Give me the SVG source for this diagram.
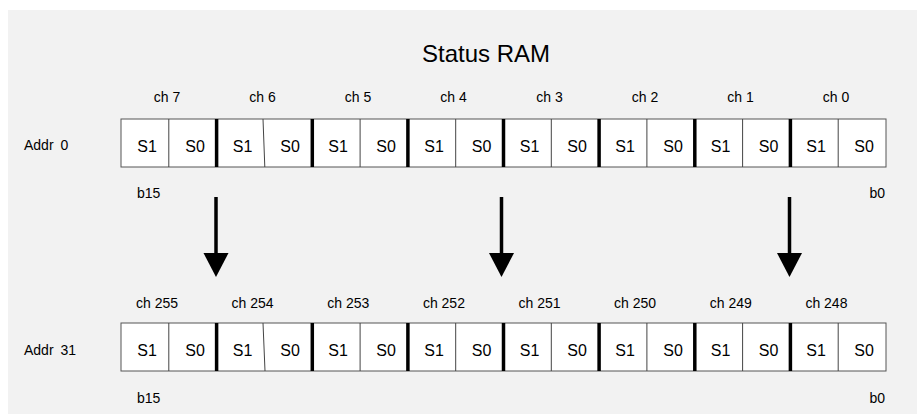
<svg xmlns="http://www.w3.org/2000/svg" width="917" height="414" viewBox="0 0 917 414">
  <defs>
    <style>
      text { font-family: "Liberation Sans", Arial, sans-serif; fill: #000; }
      .title { font-size: 24px; text-anchor: middle; }
      .ch { font-size: 14px; text-anchor: middle; }
      .ch2 { font-size: 14px; text-anchor: start; }
      .lbl { font-size: 14px; }
      .s { font-size: 16px; text-anchor: middle; }
      .box { fill: #fff; stroke: #555; stroke-width: 1; }
      .thin { stroke: #444; stroke-width: 1; }
      .thick { stroke: #000; stroke-width: 3.5; }
      .shaft { stroke: #000; stroke-width: 3.5; }
    </style>
  </defs>
  <rect x="8" y="10" width="909" height="404" fill="#f2f2f2"/>

  <g id="title">
    <text class="title" x="486" y="62">Status RAM</text>
  </g>

  <g id="row-addr0">
    <text class="lbl" x="24" y="150" word-spacing="3">Addr 0</text>
    <g class="ch">
      <text x="167" y="102">ch 7</text>
      <text x="262.5" y="102">ch 6</text>
      <text x="358" y="102">ch 5</text>
      <text x="453.5" y="102">ch 4</text>
      <text x="549.5" y="102">ch 3</text>
      <text x="645" y="102">ch 2</text>
      <text x="740.5" y="102">ch 1</text>
      <text x="836" y="102">ch 0</text>
    </g>
    <rect class="box" x="121" y="119" width="765" height="48"/>
    <g class="thin">
      <line x1="168.8" y1="119" x2="168.8" y2="167"/>
      <line x1="263" y1="119" x2="264.8" y2="167"/>
      <line x1="360.1" y1="119" x2="360.1" y2="167"/>
      <line x1="455.7" y1="119" x2="455.7" y2="167"/>
      <line x1="551.3" y1="119" x2="551.3" y2="167"/>
      <line x1="646.9" y1="119" x2="646.9" y2="167"/>
      <line x1="742.6" y1="119" x2="742.6" y2="167"/>
      <line x1="838.2" y1="119" x2="838.2" y2="167"/>
    </g>
    <g class="thick">
      <line x1="216.6" y1="119" x2="216.6" y2="167"/>
      <line x1="312.3" y1="119" x2="312.3" y2="167"/>
      <line x1="407.9" y1="119" x2="407.9" y2="167"/>
      <line x1="503.5" y1="119" x2="503.5" y2="167"/>
      <line x1="599.1" y1="119" x2="599.1" y2="167"/>
      <line x1="694.8" y1="119" x2="694.8" y2="167"/>
      <line x1="790.4" y1="119" x2="790.4" y2="167"/>
    </g>
    <g class="s">
      <text x="147" y="152">S1</text><text x="195" y="152">S0</text>
      <text x="242.5" y="152">S1</text><text x="290" y="152">S0</text>
      <text x="338" y="152">S1</text><text x="386" y="152">S0</text>
      <text x="434" y="152">S1</text><text x="481.5" y="152">S0</text>
      <text x="529.5" y="152">S1</text><text x="577" y="152">S0</text>
      <text x="625" y="152">S1</text><text x="673" y="152">S0</text>
      <text x="720.5" y="152">S1</text><text x="768.5" y="152">S0</text>
      <text x="816" y="152">S1</text><text x="864" y="152">S0</text>
    </g>
    <text class="lbl" x="137" y="198">b15</text>
    <text class="lbl" x="885" y="198" text-anchor="end">b0</text>
  </g>

  <g id="row-addr31">
    <text class="lbl" x="24" y="355" word-spacing="3">Addr 31</text>
    <g class="ch2">
      <text x="136" y="308">ch 255</text>
      <text x="231.6" y="308">ch 254</text>
      <text x="327.3" y="308">ch 253</text>
      <text x="422.9" y="308">ch 252</text>
      <text x="518.5" y="308">ch 251</text>
      <text x="614.1" y="308">ch 250</text>
      <text x="709.8" y="308">ch 249</text>
      <text x="805.4" y="308">ch 248</text>
    </g>
    <rect class="box" x="121" y="323" width="765" height="48"/>
    <g class="thin">
      <line x1="168.8" y1="323" x2="168.8" y2="371"/>
      <line x1="263" y1="323" x2="265" y2="371"/>
      <line x1="360.1" y1="323" x2="360.1" y2="371"/>
      <line x1="455.7" y1="323" x2="455.7" y2="371"/>
      <line x1="551.3" y1="323" x2="551.3" y2="371"/>
      <line x1="646.9" y1="323" x2="646.9" y2="371"/>
      <line x1="742.6" y1="323" x2="742.6" y2="371"/>
      <line x1="838.2" y1="323" x2="838.2" y2="371"/>
    </g>
    <g class="thick">
      <line x1="216.6" y1="323" x2="216.6" y2="371"/>
      <line x1="312.3" y1="323" x2="312.3" y2="371"/>
      <line x1="407.9" y1="323" x2="407.9" y2="371"/>
      <line x1="503.5" y1="323" x2="503.5" y2="371"/>
      <line x1="599.1" y1="323" x2="599.1" y2="371"/>
      <line x1="694.8" y1="323" x2="694.8" y2="371"/>
      <line x1="790.4" y1="323" x2="790.4" y2="371"/>
    </g>
    <g class="s">
      <text x="147" y="356">S1</text><text x="195" y="356">S0</text>
      <text x="242.5" y="356">S1</text><text x="290" y="356">S0</text>
      <text x="338" y="356">S1</text><text x="386" y="356">S0</text>
      <text x="434" y="356">S1</text><text x="481.5" y="356">S0</text>
      <text x="529.5" y="356">S1</text><text x="577" y="356">S0</text>
      <text x="625" y="356">S1</text><text x="673" y="356">S0</text>
      <text x="720.5" y="356">S1</text><text x="768.5" y="356">S0</text>
      <text x="816" y="356">S1</text><text x="864" y="356">S0</text>
    </g>
    <text class="lbl" x="137" y="403">b15</text>
    <text class="lbl" x="885" y="403" text-anchor="end">b0</text>
  </g>

  <g id="connectors">
    <line class="shaft" x1="216" y1="197" x2="216" y2="255"/>
    <polygon points="203.5,253 228.5,253 216,277"/>
    <line class="shaft" x1="501.5" y1="197" x2="501.5" y2="255"/>
    <polygon points="489,253 514,253 501.5,277"/>
    <line class="shaft" x1="789.5" y1="197" x2="789.5" y2="255"/>
    <polygon points="777,253 802,253 789.5,277"/>
  </g>
</svg>
